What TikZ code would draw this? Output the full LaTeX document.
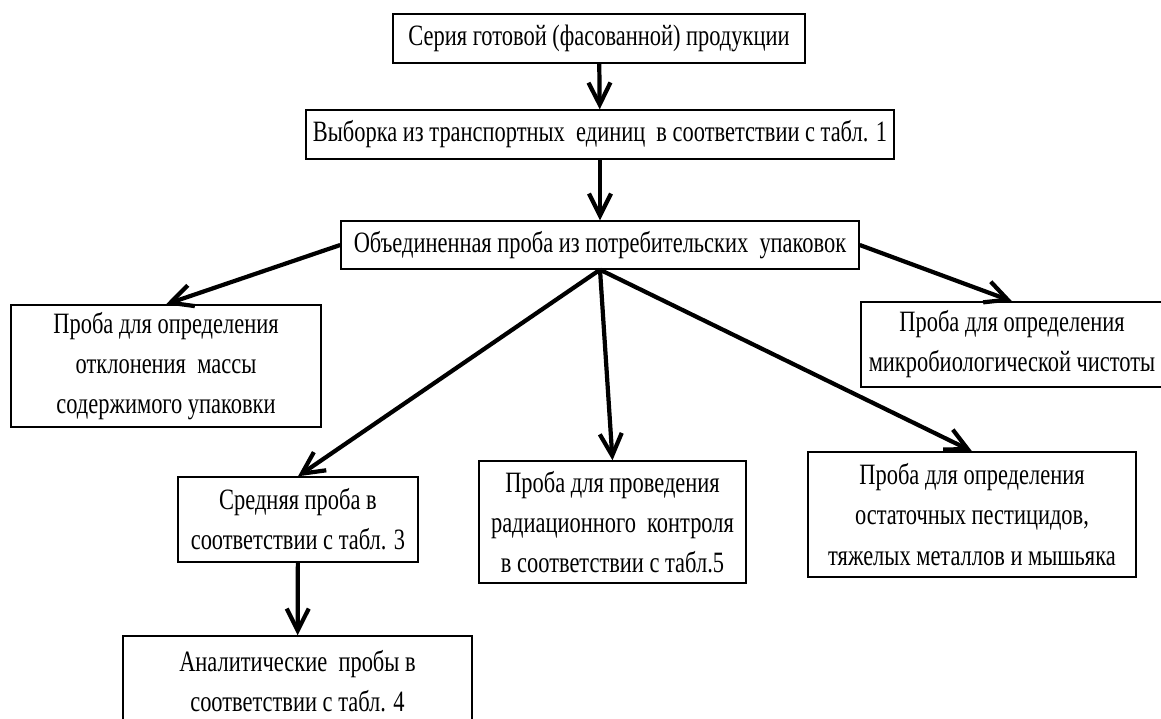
\documentclass[tikz,border=0pt]{standalone}
\usepackage{fontspec}
\setmainfont{Liberation Serif}[FakeStretch=0.76]
\usetikzlibrary{arrows.meta}
\begin{document}
\begin{tikzpicture}[
    x=0.025cm, y=-0.025cm,
    box/.style={rectangle, draw, line width=1pt, inner sep=0pt, align=center, font=\fontsize{21}{28.5}\selectfont},
    arrow/.style={-{Straight Barb[length=5.5mm, width=5.5mm]}, line width=3pt}
]
\useasboundingbox (0,0) rectangle (1161,718);
% Top chain
\node[box, minimum width=10.3cm, minimum height=1.225cm] (series) at (599, 38.5) {Серия готовой (фасованной) продукции};
\node[box, minimum width=14.7cm, minimum height=1.225cm] (sample) at (600, 134.5) {Выборка из транспортных \ единиц \ в соответствии с табл. 1};
\node[box, minimum width=12.95cm, minimum height=1.2cm] (pooled) at (600, 245) {Объединенная проба из потребительских \ упаковок};

% Samples
\node[box, minimum width=7.75cm, minimum height=3.05cm] (mass) at (166, 366) {Проба для определения\\отклонения \ массы\\содержимого упаковки};
\node[box, minimum width=7.55cm, minimum height=2.125cm] (micro) at (1012, 344.5) {Проба для определения\\микробиологической чистоты};
\node[box, minimum width=6cm, minimum height=2.125cm] (average) at (298, 519.5) {Средняя проба в\\соответствии с табл. 3};
\node[box, minimum width=6.675cm, minimum height=3.05cm] (radiation) at (612.5, 522) {Проба для проведения\\радиационного \ контроля\\в соответствии с табл.5};
\node[box, minimum width=8.2cm, minimum height=3.125cm] (pesticide) at (972, 514.5) {Проба для определения\\остаточных пестицидов,\\тяжелых металлов и мышьяка};
\node[box, minimum width=8.725cm, minimum height=2.25cm] (analytic) at (297.5, 681) {Аналитические \ пробы в\\соответствии с табл. 4};

\draw[arrow] (series) -- (sample);
\draw[arrow] (sample) -- (pooled);
\draw[arrow] (pooled.west) -- (mass.north);
\draw[arrow] (pooled.east) -- (micro.north);
\draw[arrow] (pooled.south) -- (average.north);
\draw[arrow] (pooled.south) -- (radiation.north);
\draw[arrow] (pooled.south) -- (pesticide.north);
\draw[arrow] (average) -- (analytic);
\end{tikzpicture}
\end{document}
